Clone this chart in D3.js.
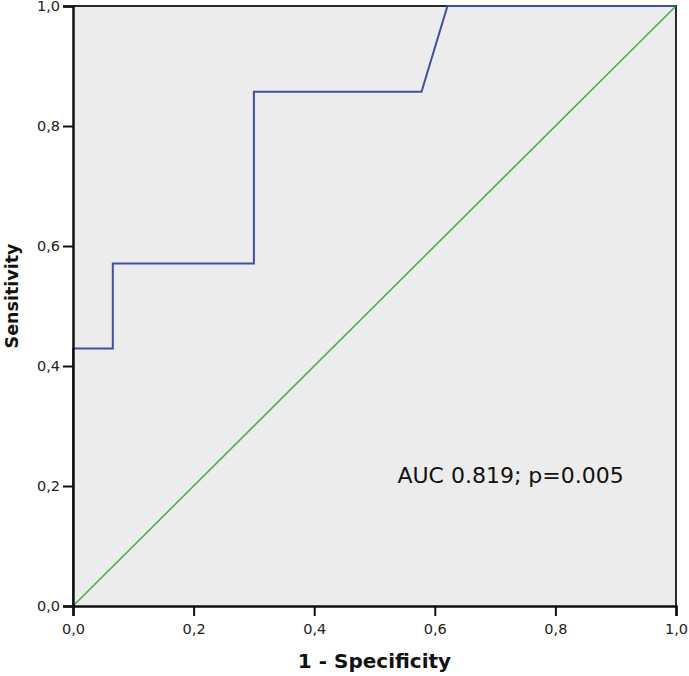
<!DOCTYPE html>
<html>
<head>
<meta charset="utf-8">
<script src="https://cdn.jsdelivr.net/npm/d3@7"></script>
<style>
  body { margin: 0; background: #fff; }
  text { font-family: "DejaVu Sans", sans-serif; }
</style>
</head>
<body>
<script>
// ROC curve points (1 - specificity, sensitivity)
var fpr = [0, 0, 0.066, 0.066, 0.300, 0.300, 0.578, 0.621, 1.0];
var tpr = [0, 0.429, 0.429, 0.571, 0.571, 0.857, 0.857, 1.0, 1.0];
// reference line
var refX = [0, 1];
var refY = [0, 1];
var ticks = [0, 0.2, 0.4, 0.6, 0.8, 1.0];
var annotation = "AUC 0.819; p=0.005";

var width = 689, height = 676;
var plotLeft = 73, plotRight = 676, plotTop = 6, plotBottom = 606;

var svg = d3.select("body").append("svg")
    .attr("width", width)
    .attr("height", height);

var x = d3.scaleLinear().domain([0, 1]).range([plotLeft, plotRight]);
var y = d3.scaleLinear().domain([0, 1]).range([plotBottom, plotTop]);

var fmt = function(d) { return d3.format(".1f")(d).replace(".", ","); };

// plot background
svg.append("rect")
    .attr("x", plotLeft).attr("y", plotTop)
    .attr("width", plotRight - plotLeft).attr("height", plotBottom - plotTop)
    .attr("fill", "#ececec");

// top and right frame
svg.append("path")
    .attr("d", "M" + plotLeft + "," + plotTop + "H" + plotRight + "V" + plotBottom)
    .attr("fill", "none")
    .attr("stroke", "#2a2a33")
    .attr("stroke-width", 2);

// diagonal
var line = d3.line().x(function(d) { return x(d[0]); }).y(function(d) { return y(d[1]); });
svg.append("path")
    .datum(d3.zip(refX, refY))
    .attr("d", line)
    .attr("fill", "none")
    .attr("stroke", "#45b245")
    .attr("stroke-width", 1.6);

// ROC curve
svg.append("path")
    .datum(d3.zip(fpr, tpr))
    .attr("d", line)
    .attr("fill", "none")
    .attr("stroke", "#3e4fa6")
    .attr("stroke-width", 2);

// axes
var xAxis = svg.append("g")
    .attr("transform", "translate(0," + plotBottom + ")")
    .call(d3.axisBottom(x).tickValues(ticks).tickFormat(fmt).tickSize(10).tickPadding(8));
var yAxis = svg.append("g")
    .attr("transform", "translate(" + plotLeft + ",0)")
    .call(d3.axisLeft(y).tickValues(ticks).tickFormat(fmt).tickSize(10).tickPadding(3));

[xAxis, yAxis].forEach(function(g) {
    g.attr("font-size", 14.5);
    g.select(".domain").attr("stroke", "#111").attr("stroke-width", 2.5);
    g.selectAll(".tick line").attr("stroke", "#111").attr("stroke-width", 2);
    g.selectAll(".tick text")
        .attr("font-family", "DejaVu Sans, sans-serif")
        .attr("font-size", 14.5)
        .attr("fill", "#222");
});

// axis titles
svg.append("text")
    .attr("x", (plotLeft + plotRight) / 2)
    .attr("y", 668)
    .attr("text-anchor", "middle")
    .attr("font-weight", "bold")
    .attr("font-size", "20px")
    .attr("fill", "#111")
    .text("1 - Specificity");

svg.append("text")
    .attr("transform", "translate(18," + 296 + ") rotate(-90)")
    .attr("text-anchor", "middle")
    .attr("font-weight", "bold")
    .attr("font-size", "17.5px")
    .attr("fill", "#111")
    .text("Sensitivity");

// annotation
svg.append("text")
    .attr("x", x(0.538))
    .attr("y", 483)
    .attr("font-size", "22px")
    .attr("fill", "#111")
    .text(annotation);
</script>
</body>
</html>
